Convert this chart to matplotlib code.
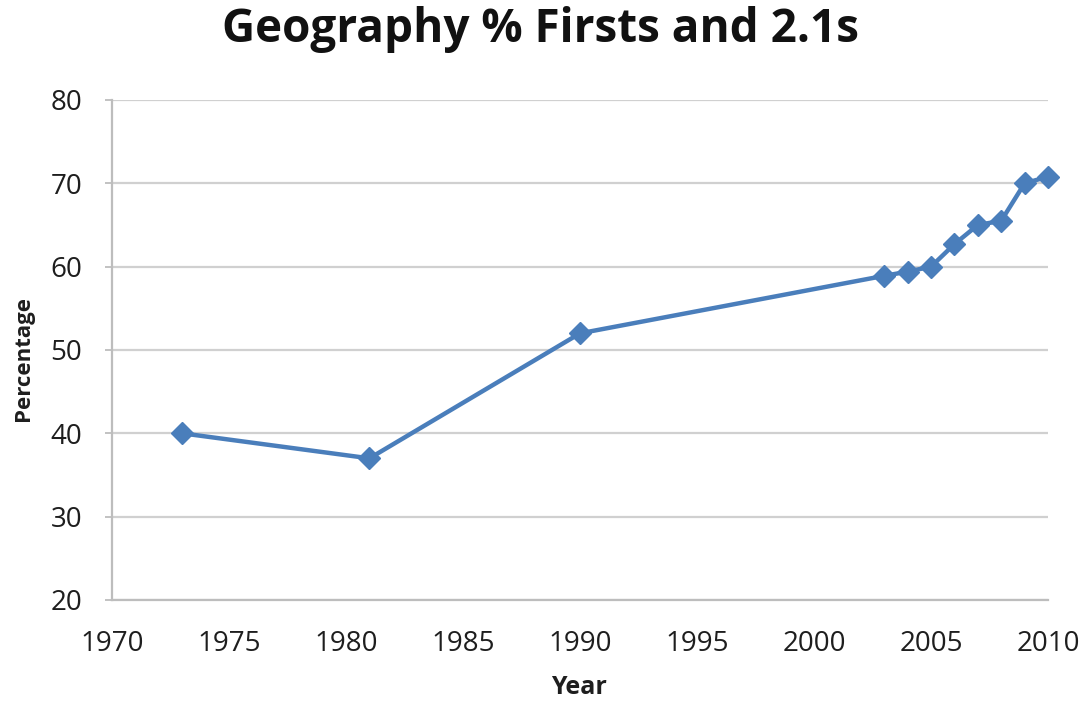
import matplotlib
matplotlib.use("Agg")
import matplotlib.pyplot as plt

years = [1973, 1981, 1990, 2003, 2004, 2005, 2006, 2007, 2008, 2009, 2010]
percent = [40.0, 37.0, 52.0, 58.9, 59.4, 60.0, 62.7, 65.0, 65.5, 70.0, 70.8]
x_ticks = [1970, 1975, 1980, 1985, 1990, 1995, 2000, 2005, 2010]
y_ticks = [20, 30, 40, 50, 60, 70, 80]
title = "Geography % Firsts and 2.1s"

plt.rcParams['font.family'] = ['Open Sans', 'DejaVu Sans']

W, H = 1082, 701
fig = plt.figure(figsize=(W / 100, H / 100), dpi=100)
ax = fig.add_axes([112/W, 1 - 600/H, (1048-112)/W, (600-100)/H])

color = '#4A7EBB'
ax.plot(years, percent, color=color, lw=3.2, marker='D', markersize=11,
        markeredgecolor=color, markerfacecolor=color, zorder=3, clip_on=False)

ax.set_xlim(1970, 2010)
ax.set_ylim(20, 80)
ax.set_xticks(x_ticks)
ax.set_yticks(y_ticks)
ax.yaxis.grid(True, color='#D0D0D0', lw=1.6)
ax.set_axisbelow(True)
for s in ['top', 'right']:
    ax.spines[s].set_visible(False)
for s in ['left', 'bottom']:
    ax.spines[s].set_color('#BDBDBD')
    ax.spines[s].set_linewidth(1.6)
ax.tick_params(axis='y', length=5, color='#BDBDBD', width=1.3, labelsize=20, pad=16.5, labelcolor='#1e1e1e')
ax.tick_params(axis='x', length=0, labelsize=20, pad=21.5, labelcolor='#1e1e1e')

fig.text(579/W, 1/H, 'Year', ha='center', va='bottom', fontsize=18, fontweight='bold', color='#1e1e1e')
fig.text(23/W, 1 - 358/H, 'Percentage', ha='center', va='center', rotation=90, fontsize=16, fontweight='bold', color='#1e1e1e')
fig.text(540/W, 1 - 42/H, title, ha='center', va='baseline', fontsize=33, fontweight='bold', color='#111111')

fig.savefig('out.png', dpi=100, facecolor='white')
